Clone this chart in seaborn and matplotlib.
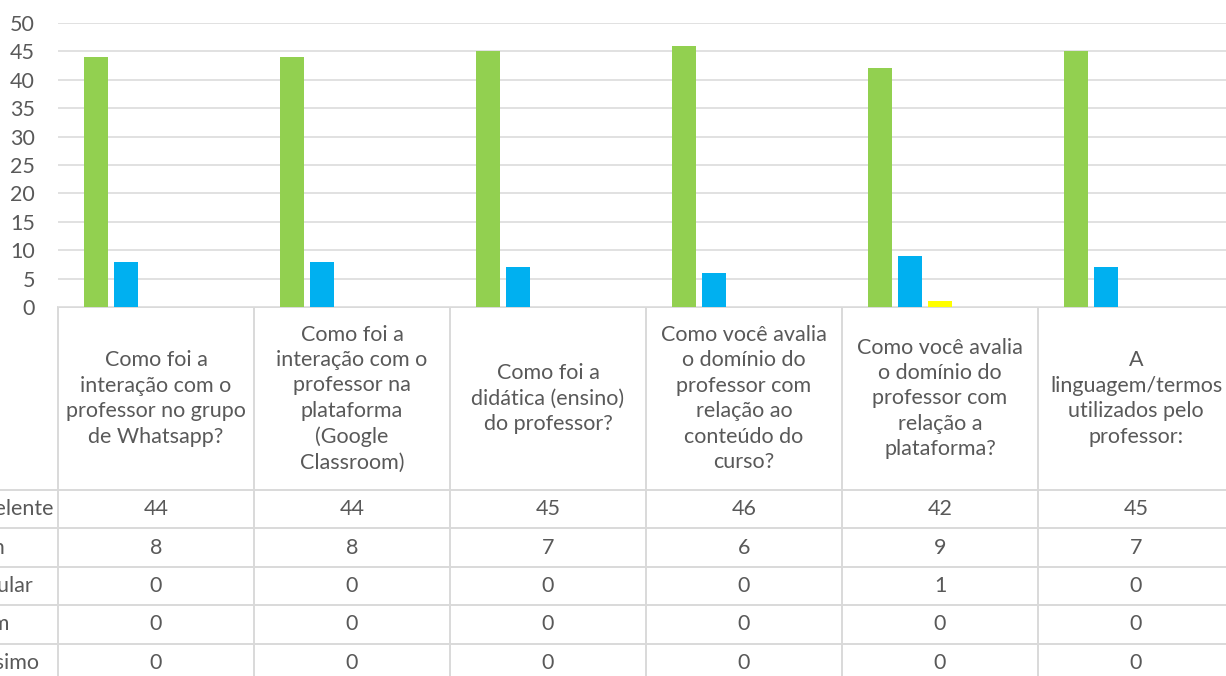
import numpy as np
import pandas as pd
import matplotlib
matplotlib.use("Agg")
import matplotlib.pyplot as plt
import seaborn as sns
from matplotlib.transforms import blended_transform_factory

perguntas = [
    "Como foi a\ninteração com o\nprofessor no grupo\nde Whatsapp?",
    "Como foi a\ninteração com o\nprofessor na\nplataforma\n(Google\nClassroom)",
    "Como foi a\ndidática (ensino)\ndo professor?",
    "Como você avalia\no domínio do\nprofessor com\nrelação ao\nconteúdo do\ncurso?",
    "Como você avalia\no domínio do\nprofessor com\nrelação a\nplataforma?",
    "A\nlinguagem/termos\nutilizados pelo\nprofessor:",
]
avaliacoes = ["Excelente", "Bom", "Regular", "Ruim", "Péssimo"]
excelente = [44, 44, 45, 46, 42, 45]
bom = [8, 8, 7, 6, 9, 7]
regular = [0, 0, 0, 0, 1, 0]
ruim = [0, 0, 0, 0, 0, 0]
pessimo = [0, 0, 0, 0, 0, 0]
cores = ["#92D050", "#00B0F0", "#FFFF00", "#FFC000", "#FF0000"]

valores = [excelente, bom, regular, ruim, pessimo]
rows = []
for nome, vals in zip(avaliacoes, valores):
    for p, v in zip(perguntas, vals):
        rows.append({"pergunta": p, "avaliacao": nome, "valor": v})
df = pd.DataFrame(rows)

sns.set_style("white")
plt.rcParams["font.family"] = ["Lato", "DejaVu Sans"]
texto = "#595959"
grade = "#D9D9D9"
fs = 15.5

W, H = 1226, 676
fig = plt.figure(figsize=(W / 100, H / 100), dpi=100)
ax = fig.add_axes([58 / W, 1 - 307 / H, 1176 / W, (307 - 23) / H])

sns.barplot(data=df, x="pergunta", y="valor", hue="avaliacao",
            order=perguntas, hue_order=avaliacoes, palette=cores,
            saturation=1, width=0.765, gap=0.23, linewidth=0,
            legend=False, ax=ax)

ax.set_xlim(-0.5, len(perguntas) - 0.5)
ax.set_ylim(0, 50)
ax.set_yticks(np.arange(0, 51, 5))
ax.yaxis.grid(True, color=grade, linewidth=1.1)
ax.set_axisbelow(True)
ax.set_xticks([])
ax.set_xlabel("")
ax.set_ylabel("")
ax.tick_params(axis="y", length=0, pad=16.5, labelsize=fs, labelcolor=texto)
for s in ax.spines.values():
    s.set_visible(False)

# tabela de dados
ov = fig.add_axes([0, 0, 1, 1], zorder=-1)
ov.set_xlim(0, W)
ov.set_ylim(H, 0)
ov.axis("off")
tr = blended_transform_factory(ax.transData, ov.transData)

topo, cab = 307, 490
altura = 38.4
linhas_y = [cab + i * altura for i in range(len(avaliacoes) + 1)]

ov.plot([-0.5, len(perguntas) - 0.5], [topo, topo], color=grade, lw=1.4,
        transform=tr, clip_on=False)
for y in linhas_y:
    ov.plot([0, W], [y, y], color=grade, lw=1.4, clip_on=False)
for i in range(len(perguntas) + 1):
    ov.plot([i - 0.5, i - 0.5], [topo, H + 10], color=grade, lw=1.4,
            transform=tr, clip_on=False)

for i, p in enumerate(perguntas):
    ov.text(i, (topo + cab) / 2, p, transform=tr, ha="center", va="center",
            fontsize=fs, color=texto, linespacing=1.34)
    for j, vals in enumerate(valores):
        ov.text(i, linhas_y[j] + altura / 2, str(vals[i]), transform=tr,
                ha="center", va="center", fontsize=fs, color=texto)

# rótulos das linhas (cortados na borda esquerda, como no original)
for j, nome in enumerate(avaliacoes):
    ov.text(-39, linhas_y[j] + altura / 2, nome, ha="left", va="center",
            fontsize=fs, color=texto, clip_on=False)

fig.savefig("out.png", dpi=100)
